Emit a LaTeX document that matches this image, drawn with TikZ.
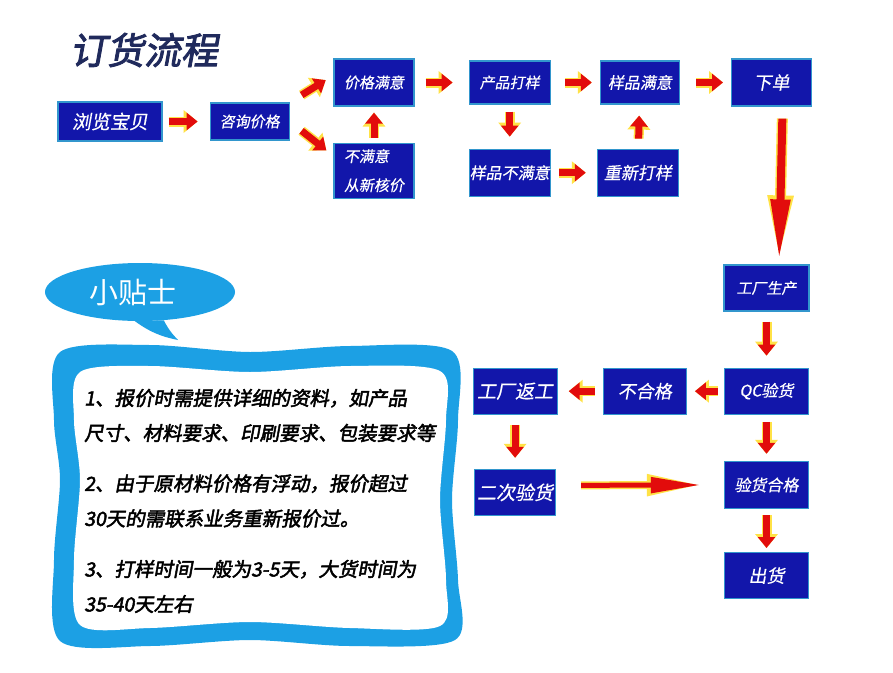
\documentclass[tikz,border=0pt]{standalone}
\usepackage{fontspec}
\newfontfamily\cjk[FakeSlant=0.18,FakeBold=0.4]{Noto Sans CJK SC}
\newfontfamily\cjkup{Noto Sans CJK SC}
\newfontfamily\cjkbf[FakeSlant=0.18,FakeBold=2.4]{Noto Sans CJK SC}
\usetikzlibrary{arrows.meta, positioning, shapes.geometric}

\definecolor{boxblue}{RGB}{18,22,170}
\definecolor{boxedge}{RGB}{50,150,205}
\definecolor{arrred}{RGB}{226,12,12}
\definecolor{glow}{RGB}{255,226,70}
\definecolor{tipblue}{RGB}{28,160,228}
\definecolor{titlenavy}{RGB}{32,42,92}

\newcommand{\fsz}[2]{\fontsize{#1pt}{#2pt}\selectfont}

\begin{document}
\begin{tikzpicture}[
    x=1pt, y=-1pt,
    box/.style={draw=boxedge, line width=1.2pt, fill=boxblue, text=white,
                inner sep=0pt, font=\cjk\fsz{16}{19}},
    fat/.style={draw=arrred, line width=7pt, -{Triangle[length=11pt,width=17pt]},
                shorten <=8pt, shorten >=9pt,
                preaction={draw=glow, line width=10pt,
                           -{Triangle[length=14pt,width=22pt]}}},
    bigarrow/.style={draw=arrred, line width=8pt, -{Triangle[length=62pt,width=18pt]},
                shorten <=12pt, shorten >=3pt,
                preaction={draw=glow, line width=11pt,
                           -{Triangle[length=66pt,width=23pt]}}},
    longarrow/.style={draw=arrred, line width=5pt, -{Triangle[length=50pt,width=15pt]},
                shorten <=25pt, shorten >=23pt,
                preaction={draw=glow, line width=8pt,
                           -{Triangle[length=54pt,width=20pt]}}}
  ]
  \fill[white] (0,0) rectangle (893,672);
  \useasboundingbox (0,0) rectangle (893,672);

  \node[font=\cjkbf\fsz{37}{40}, text=titlenavy] (title) at (144,50) {订货流程};

  % top rows
  \node[box, minimum width=104pt, minimum height=39pt, font=\cjk\fsz{19}{22}]
    (liulan) at (110,121.5) {浏览宝贝};
  \node[box, minimum width=79pt, minimum height=37pt, font=\cjk\fsz{15}{18},
        right=47pt of liulan] (zixun) {咨询价格};
  \node[box, minimum width=80pt, minimum height=47pt, font=\cjk\fsz{15}{18}]
    (manyi) at (374,82.5) {价格满意};
  \node[box, minimum width=80pt, minimum height=55pt, font=\cjk\fsz{15}{29},
        align=left, below=36pt of manyi] (buman) {不满意\\从新核价};
  \node[box, minimum width=81pt, minimum height=43pt, font=\cjk\fsz{15}{18},
        right=54pt of manyi] (dayang) {产品打样};
  \node[box, minimum width=79pt, minimum height=43pt,
        right=49pt of dayang] (yangmanyi) {样品满意};
  \node[box, minimum width=80pt, minimum height=47pt, font=\cjk\fsz{18}{21},
        right=51pt of yangmanyi] (xiadan) {下单};
  \node[box, minimum width=81pt, minimum height=47pt,
        below=44pt of dayang] (yangbuman) {样品不满意};
  \node[box, minimum width=81pt, minimum height=47pt, font=\cjk\fsz{17}{20},
        right=46pt of yangbuman] (chongxin) {重新打样};

  % production and inspection
  \node[box, minimum width=85pt, minimum height=46pt, font=\cjk\fsz{15}{18}]
    (gongchang) at (766.5,288) {工厂生产};
  \node[box, minimum width=84pt, minimum height=46pt,
        below=56pt of gongchang] (qc) {QC验货};
  \node[box, minimum width=83pt, minimum height=46pt, font=\cjk\fsz{18}{21},
        left=37pt of qc] (buhege) {不合格};
  \node[box, minimum width=84pt, minimum height=46pt, font=\cjk\fsz{19}{22},
        left=45pt of buhege] (fangong) {工厂返工};
  \node[box, minimum width=81pt, minimum height=46pt, font=\cjk\fsz{19}{22},
        below=54pt of fangong] (erci) {二次验货};
  \node[box, minimum width=84pt, minimum height=47pt,
        below=46pt of qc] (hege) {验货合格};
  \node[box, minimum width=84pt, minimum height=46pt, font=\cjk\fsz{18}{21},
        below=43pt of hege] (chuhuo) {出货};

  \draw[fat, shorten <=6pt, shorten >=12pt] (liulan) -- (zixun);
  \draw[fat, shorten <=14pt] (zixun.north east) -- (manyi.170);
  \draw[fat, shorten <=15pt] (zixun.east) -- (buman.160);
  \draw[fat, shorten <=5pt, shorten >=6pt] (buman) -- (manyi);
  \draw[fat, shorten <=11pt, shorten >=16pt] (manyi) -- (dayang);
  \draw[fat, shorten <=14pt, shorten >=8pt] (dayang) -- (yangmanyi);
  \draw[fat, shorten <=16pt, shorten >=8pt] (yangmanyi) -- (xiadan);
  \draw[fat, shorten <=7pt, shorten >=12pt] (dayang) -- (yangbuman);
  \draw[fat, shorten <=8pt, shorten >=11pt] (yangbuman) -- (chongxin);
  \draw[fat, shorten <=10pt, shorten >=11pt] (chongxin) -- (yangmanyi);
  \draw[bigarrow] ([xshift=11pt]xiadan.south) -- ([xshift=12.5pt]gongchang.north);
  \draw[fat, shorten <=10pt, shorten >=12pt] (gongchang) -- (qc);
  \draw[fat, shorten <=6pt, shorten >=8pt] (qc) -- (buhege);
  \draw[fat, shorten <=8pt, shorten >=11pt] (buhege) -- (fangong);
  \draw[fat, shorten <=10pt, shorten >=11pt] (fangong) -- (erci);
  \draw[fat, shorten <=7pt, shorten >=7pt] (qc) -- (hege);
  \draw[fat, shorten <=6pt, shorten >=4pt] (hege) -- (chuhuo);
  \draw[longarrow] ([yshift=7pt]erci.east) -- (hege.west);

  % tips
  \node[ellipse, fill=tipblue, minimum width=190pt, minimum height=58pt,
        inner sep=0pt, text=white, font=\cjkup\fsz{29}{32}]
    (tipsbubble) at (140,292) {小贴士\hspace*{14pt}};
  \coordinate (tailtip) at (178,340);
  \fill[tipblue] (tipsbubble.-100) to[bend right=12] (tailtip)
    to[bend left=8] (tipsbubble.-50) -- cycle;

  \fill[tipblue] plot[smooth cycle] coordinates {(60,352) (150,345) (250,352)
    (350,346) (452,351) (458,420) (452,500) (458,580) (455,640) (350,646)
    (250,640) (150,646) (60,641) (54,560) (60,480) (54,420)};
  \fill[white] plot[smooth cycle] coordinates {(80,372) (150,366) (250,372)
    (350,366) (440,371) (446,420) (440,500) (446,580) (440,626) (350,628)
    (250,622) (150,628) (80,625) (74,560) (80,480) (74,420)};

  \node[anchor=west, inner sep=0pt, align=left, font=\cjkbf\fsz{19.5}{35}]
    (tipone) at (84,415.5) {1、报价时需提供详细的资料，如产品\\尺寸、材料要求、印刷要求、包装要求等};
  \node[anchor=west, inner sep=0pt, align=left, font=\cjkbf\fsz{19.5}{35}]
    (tiptwo) at (84,501) {2、由于原材料价格有浮动，报价超过\\30天的需联系业务重新报价过。};
  \node[anchor=west, inner sep=0pt, align=left, font=\cjkbf\fsz{19.5}{35}]
    (tipthree) at (84,586.5) {3、打样时间一般为3-5天，大货时间为\\35-40天左右};
\end{tikzpicture}
\end{document}
